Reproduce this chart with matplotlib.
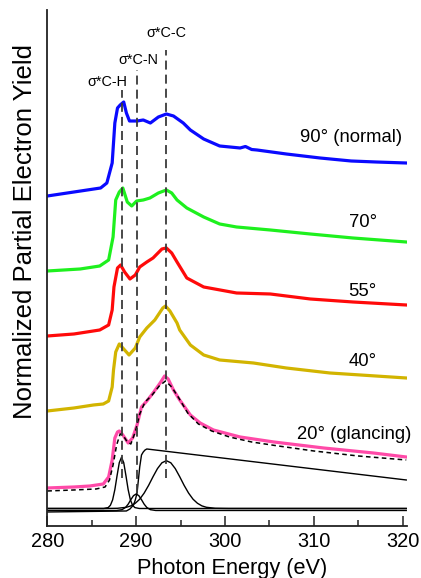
import matplotlib
matplotlib.use('Agg')
import matplotlib.pyplot as plt
from matplotlib.ticker import MultipleLocator

plt.rcParams['font.family'] = ['Liberation Sans', 'DejaVu Sans']

# NEXAFS spectra, offset vertically (arbitrary units)
e_90 = [280, 283, 286, 286.7, 287.3, 287.6, 287.9, 288.2, 288.6, 288.9, 289.25, 290.1, 290.8,
        291.6, 292.5, 293.4, 294.2, 295.3, 296.1, 297.6, 299.4, 301.7, 302.3, 303.0,
        303.6, 306.9, 310.7, 314.2, 317, 320.4]
y_90 = [3.30, 3.34, 3.38, 3.43, 3.63, 4.03, 4.18, 4.21, 4.24, 4.13, 4.05, 4.05, 4.06,
        4.03, 4.09, 4.12, 4.10, 4.03, 3.96, 3.87, 3.80, 3.78, 3.795, 3.765,
        3.76, 3.72, 3.68, 3.65, 3.64, 3.63]

e_70 = [280, 283.7, 285.9, 286.9, 287.4, 287.7, 288.1, 288.5, 289.0, 289.5, 290.05, 290.8,
        291.55, 292.5, 293.4, 294.0, 294.6, 295.7, 297.6, 299.4, 301.3, 305.1, 309.6, 314.4, 320.4]
y_70 = [2.55, 2.57, 2.60, 2.66, 2.89, 3.26, 3.34, 3.38, 3.24, 3.20, 3.25, 3.26,
        3.28, 3.33, 3.36, 3.33, 3.26, 3.18, 3.09, 3.02, 2.99, 2.96, 2.92, 2.88, 2.84]

e_55 = [280, 283, 285.9, 286.9, 287.3, 287.5, 287.9, 288.25, 288.7, 289.3, 289.9, 290.4,
        291.2, 291.9, 292.9, 293.4, 294.0, 294.6, 295.7, 297.6, 301.3, 305.1, 309.6, 314.4, 320.4]
y_55 = [1.90, 1.92, 1.96, 2.01, 2.16, 2.39, 2.58, 2.61, 2.54, 2.47, 2.51, 2.59,
        2.64, 2.68, 2.77, 2.78, 2.73, 2.64, 2.48, 2.39, 2.33, 2.32, 2.27, 2.24, 2.21]

e_40 = [280, 283, 285.2, 286.3, 286.9, 287.3, 287.45, 287.7, 288.0, 288.1, 288.7, 289.2,
        289.9, 290.4, 291.2, 292.1, 293.0, 293.3, 293.8, 294.6, 294.9, 296.1, 297.6, 299.4,
        303.2, 306.9, 311.8, 320.4]
y_40 = [1.15, 1.18, 1.21, 1.22, 1.25, 1.39, 1.56, 1.74, 1.80, 1.82, 1.76, 1.71,
        1.78, 1.89, 1.98, 2.06, 2.18, 2.20, 2.15, 2.03, 1.96, 1.81, 1.71, 1.66,
        1.63, 1.58, 1.53, 1.48]

e_20 = [280, 283, 284.8, 286.3, 286.9, 287.3, 287.6, 287.9, 288.1, 288.5, 289.1, 289.6,
        290.1, 290.6, 291.2, 291.9, 292.7, 293.2, 293.6, 294.2, 294.9, 296.1, 297.2, 298.7,
        301.7, 305.5, 311.1, 316.7, 320.4]
y_20 = [0.38, 0.39, 0.40, 0.42, 0.49, 0.66, 0.88, 0.94, 0.95, 0.91, 0.83, 0.88,
        1.01, 1.19, 1.25, 1.33, 1.43, 1.50, 1.47, 1.36, 1.26, 1.11, 1.03, 0.96,
        0.89, 0.84, 0.78, 0.73, 0.69]

# fit of the 20 deg spectrum and its components
e_fit = [280, 283, 285.5, 286.5, 287.0, 287.4, 287.8, 288.2, 288.5, 289.0, 289.4, 289.9,
         290.4, 291.0, 291.8, 292.6, 293.3, 294.0, 294.8, 295.8, 297.0, 298.5, 300.5, 303,
         306, 310, 315, 320.4]
y_fit = [0.35, 0.36, 0.37, 0.39, 0.46, 0.61, 0.81, 0.92, 0.91, 0.84, 0.82, 0.94,
         1.12, 1.24, 1.31, 1.40, 1.45, 1.39, 1.28, 1.13, 1.02, 0.95, 0.89, 0.84,
         0.80, 0.75, 0.70, 0.66]

e_step = [280, 288.9, 289.3, 289.7, 289.9, 290.1, 290.25, 290.4, 290.6, 290.8, 291.0, 291.2, 320.4]
y_step = [0.14, 0.15, 0.17, 0.21, 0.26, 0.33, 0.46, 0.59, 0.71, 0.74, 0.76, 0.77, 0.46]

e_ch = [280, 286.35, 286.85, 287.1, 287.35, 287.6, 287.85, 288.1, 288.35, 288.6, 288.85,
        289.1, 289.35, 289.6, 289.85, 290.35, 320.4]
y_ch = [0.175, 0.175, 0.184, 0.207, 0.261, 0.363, 0.503, 0.633, 0.687, 0.633, 0.503,
        0.363, 0.261, 0.207, 0.184, 0.175, 0.175]

e_cn = [280, 287.8, 288.4, 288.8, 289.1, 289.4, 289.7, 290.0, 290.3, 290.6, 290.9, 291.2,
        291.6, 292.2, 320.4]
y_cn = [0.155, 0.155, 0.163, 0.185, 0.218, 0.263, 0.303, 0.32, 0.303, 0.263, 0.218, 0.185,
        0.163, 0.155, 0.155]

e_cc = [280, 286.4, 287.9, 288.9, 289.4, 289.9, 290.4, 290.9, 291.4, 291.9, 292.4, 292.9,
        293.4, 293.9, 294.4, 294.9, 295.4, 295.9, 296.4, 296.9, 297.4, 297.9, 298.9, 300.4, 320.4]
y_cc = [0.175, 0.175, 0.177, 0.187, 0.201, 0.227, 0.268, 0.329, 0.406, 0.493, 0.574, 0.632,
        0.653, 0.632, 0.574, 0.493, 0.406, 0.329, 0.268, 0.227, 0.201, 0.187, 0.177, 0.175, 0.175]

# resonance markers
res_names = ['σ*C-H', 'σ*C-N', 'σ*C-C']
res_energy = [288.35, 290.1, 293.4]
res_top = [4.36, 4.56, 4.76]
res_bottom = [0.48, 0.33, 0.48]
res_label_e = [286.7, 290.2, 293.4]
res_label_y = [4.44, 4.66, 4.93]

angle_labels = ['90° (normal)', '70°', '55°', '40°', '20° (glancing)']
angle_label_y = [3.88, 3.03, 2.34, 1.64, 0.91]

fig = plt.figure(figsize=(4.21, 5.78), dpi=100)
ax = fig.add_axes([0.1124, 0.09, 0.8536, 0.8927])

ax.plot(e_90, y_90, color='#0a0aff', lw=2.3)
ax.plot(e_70, y_70, color='#1ef01e', lw=2.3)
ax.plot(e_55, y_55, color='#ff0a0a', lw=2.3)
ax.plot(e_40, y_40, color='#d2b400', lw=2.3)
ax.plot(e_20, y_20, color='#ff4aa8', lw=2.3)
ax.plot(e_fit, y_fit, color='black', lw=1.1, dashes=(3, 2.2))

for ee, yy in [(e_step, y_step), (e_ch, y_ch), (e_cn, y_cn), (e_cc, y_cc)]:
    ax.plot(ee, yy, color='black', lw=1.0)

for name, en, top, bot, le, ly in zip(res_names, res_energy, res_top, res_bottom,
                                      res_label_e, res_label_y):
    ax.plot([en, en], [bot, top], color='#3a3a3a', lw=1.3, dashes=(5, 2.8))
    ax.text(le, ly, name, ha='center', va='center', fontsize=10.4)

label_e = [319.9, 317.1, 317.1, 317.1, 321.0]
for txt, ly, le in zip(angle_labels, angle_label_y, label_e):
    ax.text(le, ly, txt, ha='right', va='center', fontsize=13.3)

ax.set_xlim(280, 320.45)
ax.set_ylim(0, 5.16)
ax.xaxis.set_major_locator(MultipleLocator(10))
ax.xaxis.set_minor_locator(MultipleLocator(5))
ax.tick_params(axis='x', which='major', direction='in', length=7.5, width=1.1,
               labelsize=14.4, pad=4, color='#222222')
ax.tick_params(axis='x', which='minor', direction='in', length=4, width=1.1, color='#222222')
ax.set_yticks([])
for side in ['top', 'right']:
    ax.spines[side].set_visible(False)
for side in ['left', 'bottom']:
    ax.spines[side].set_linewidth(1.3)
    ax.spines[side].set_color('#222222')

ax.set_xlabel('Photon Energy (eV)', fontsize=15.7)
ax.xaxis.set_label_coords(0.514, -0.062)
ax.set_ylabel('Normalized Partial Electron Yield', fontsize=18.5)
ax.yaxis.set_label_coords(-0.03, 0.57)

fig.savefig('out.png', dpi=100)
